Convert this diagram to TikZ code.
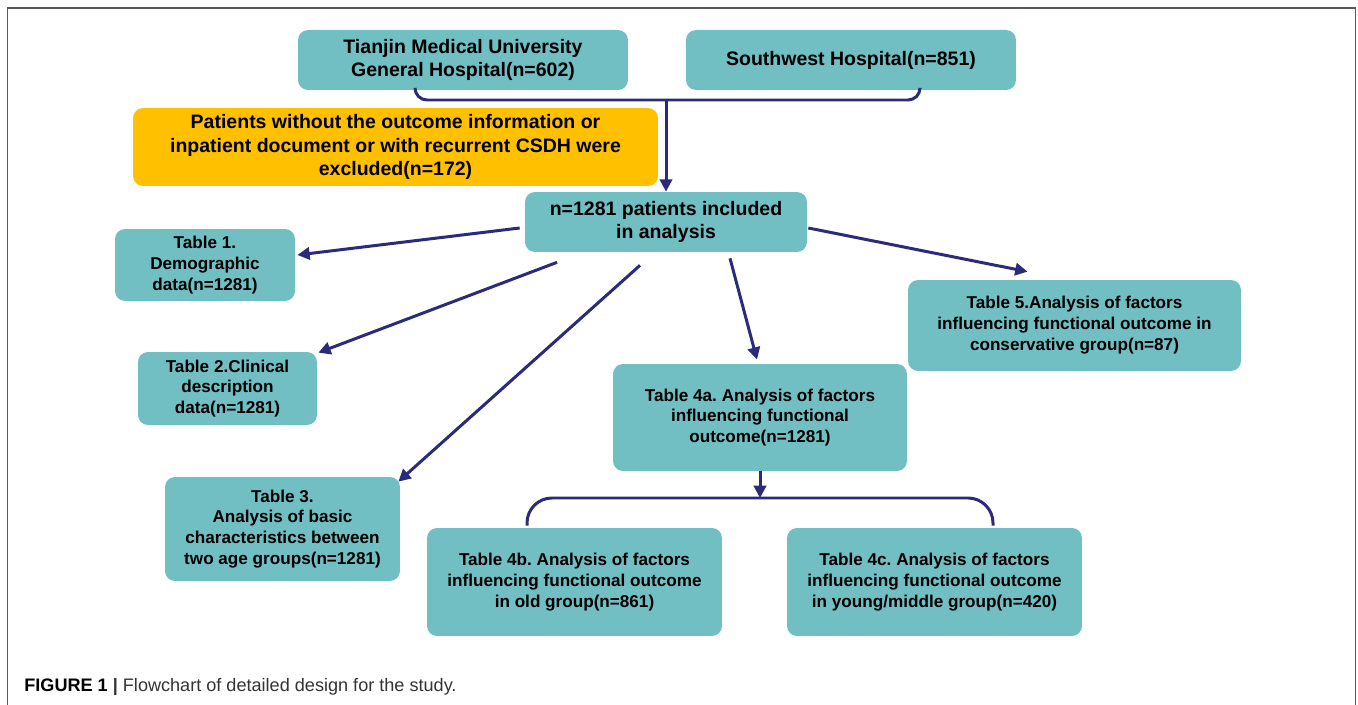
\documentclass[tikz,border=0pt]{standalone}
\usepackage{fontspec}
\setmainfont{Liberation Sans}
\usetikzlibrary{arrows.meta}
\frenchspacing
\definecolor{boxteal}{HTML}{71BEC3}
\definecolor{boxorange}{HTML}{FFC000}
\definecolor{linknavy}{HTML}{2C2A7A}
\tikzset{
  box/.style={rectangle, rounded corners=0.2cm, fill=boxteal, align=center, inner sep=0pt,
    font=\bfseries\fontsize{9.75}{11.9}\selectfont},
  bigbox/.style={box, font=\bfseries\fontsize{11.1}{13.3}\selectfont},
  link/.style={draw=linknavy, line width=1.7pt},
  arrow/.style={link, -{Triangle[length=7pt,width=7pt]}}
}
\begin{document}
\begin{tikzpicture}[x=0.02cm, y=-0.02cm]
  \useasboundingbox (0,0) rectangle (1358,705);
  \draw[black!65, line width=1.1pt] (7.5,705) -- (7.5,8) -- (1355.5,8) -- (1355.5,705);
  % sources
  \node[bigbox, minimum width=6.6cm, minimum height=1.2cm] (hosp1) at (463,60)
    {Tianjin Medical University\\General Hospital(n=602)};
  \node[bigbox, minimum width=6.6cm, minimum height=1.2cm] (hosp2) at (851,60)
    {Southwest Hospital(n=851)};
  \node[bigbox, fill=boxorange, minimum width=10.5cm, minimum height=1.56cm] (excl) at (395.5,147)
    {Patients without the outcome information or\\inpatient document or with recurrent CSDH were\\excluded(n=172)};
  \node[bigbox, minimum width=5.64cm, minimum height=1.2cm] (incl) at (666,222)
    {n=1281 patients included\\in analysis};
  % tables
  \node[box, minimum width=3.6cm, minimum height=1.44cm] (tab1) at (205,265)
    {Table 1.\\Demographic\\data(n=1281)};
  \node[box, minimum width=3.58cm, minimum height=1.46cm] (tab2) at (227.5,388.5)
    {Table 2.Clinical\\description\\data(n=1281)};
  \node[box, minimum width=4.7cm, minimum height=2.08cm] (tab3) at (282.5,529)
    {Table 3.\\Analysis of basic\\characteristics between\\two age groups(n=1281)};
  \node[box, minimum width=5.88cm, minimum height=2.14cm] (tab4a) at (760,417.5)
    {Table 4a. Analysis of factors\\influencing functional\\outcome(n=1281)};
  \node[box, minimum width=6.66cm, minimum height=1.82cm] (tab5) at (1074.5,325.5)
    {Table 5.Analysis of factors\\influencing functional outcome in\\conservative group(n=87)};
  \node[box, minimum width=5.9cm, minimum height=2.16cm] (tab4b) at (574.5,582)
    {Table 4b. Analysis of factors\\influencing functional outcome\\in old group(n=861)};
  \node[box, minimum width=5.9cm, minimum height=2.16cm] (tab4c) at (934.5,582)
    {Table 4c. Analysis of factors\\influencing functional outcome\\in young/middle group(n=420)};
  \coordinate (mergetop) at (666,100);
  \coordinate (mergebot) at (760,498);
  % connectors
  \draw[link, rounded corners=0.24cm] ([shift={(-48,-2)}]hosp1.south) |- (mergetop) -| ([shift={(69,-2)}]hosp2.south);
  \draw[arrow] (mergetop) -- (incl.north);
  \draw[arrow] ([shift={(-5,6)}]incl.west) -- ([shift={(2,-10)}]tab1.east);
  \draw[arrow] ([shift={(-109,10)}]incl.south) -- ([shift={(1,1)}]tab2.north east);
  \draw[arrow] ([shift={(-26,13)}]incl.south) -- ([shift={(-2,5)}]tab3.north east);
  \draw[arrow] ([shift={(64,6)}]incl.south) -- ([shift={(-3,-4)}]tab4a.north);
  \draw[arrow] ([shift={(1,6)}]incl.east) -- ([shift={(-47,-8)}]tab5.north);
  \draw[arrow] (tab4a.south) -- (mergebot);
  \draw[link, rounded corners=0.5cm] ([shift={(-47.5,-2)}]tab4b.north) |- (mergebot) -| ([shift={(58.5,-2)}]tab4c.north);
  % caption
  \node[anchor=base west, inner sep=0pt, text=black!80, font=\fontsize{10.3}{12}\selectfont] (caption) at (24,691)
    {\textbf{\color{black}FIGURE 1} \textbf{|} Flowchart of detailed design for the study.};
\end{tikzpicture}
\end{document}
